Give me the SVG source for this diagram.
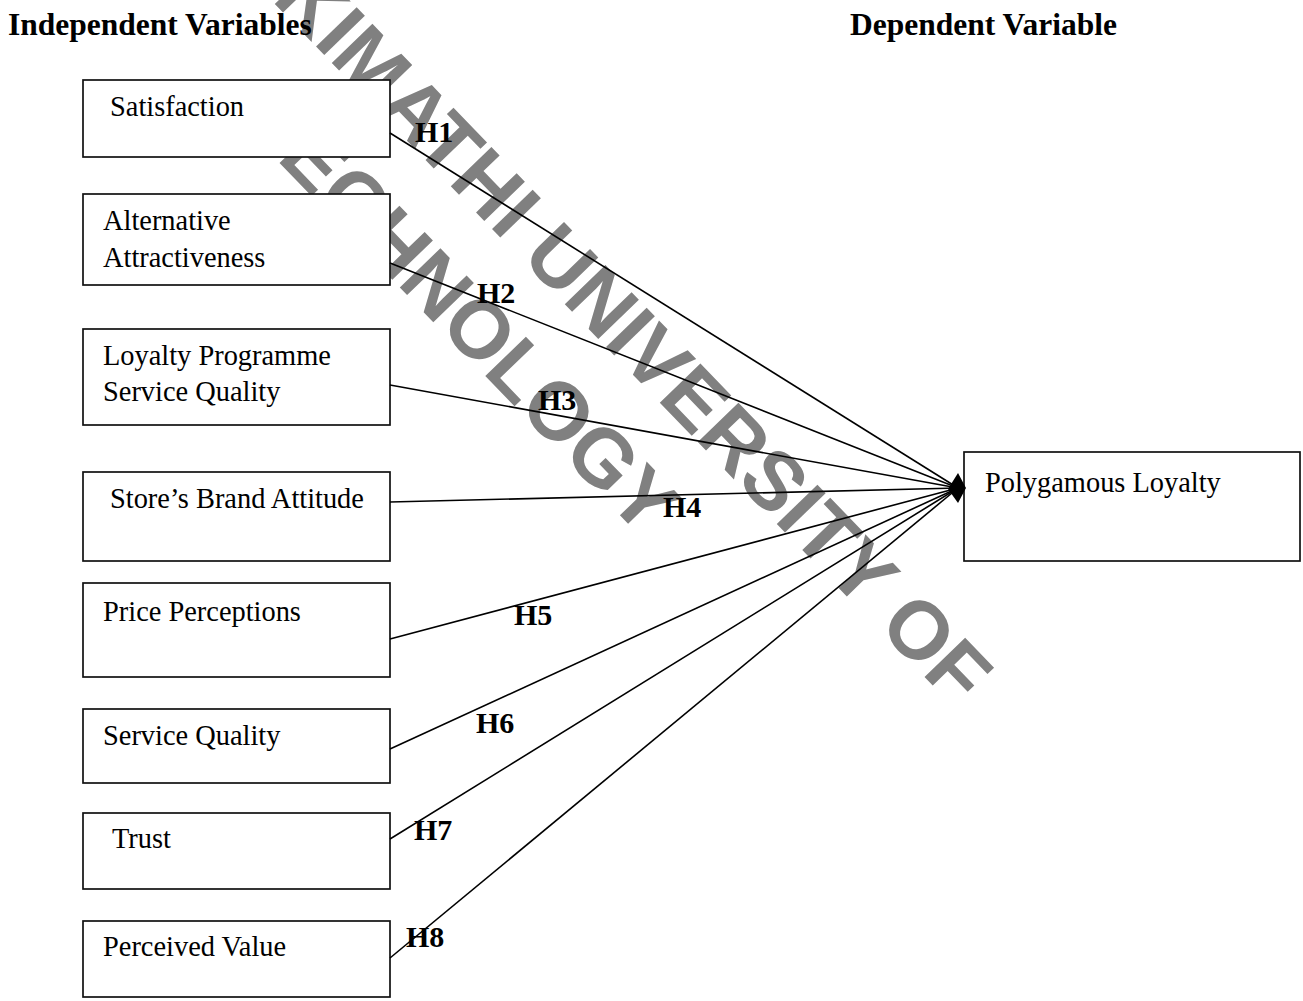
<svg xmlns="http://www.w3.org/2000/svg" width="1303" height="1001" viewBox="0 0 1303 1001">
<style>
.wm{font-family:"Liberation Sans",Arial,sans-serif;font-weight:bold;font-size:82px;fill:#808080}
.box{fill:#fff;stroke:#111;stroke-width:1.7}
.lbl{font-family:"Liberation Serif","Times New Roman",serif;font-size:28.4px;fill:#000}
.hd{font-family:"Liberation Serif","Times New Roman",serif;font-size:31.5px;font-weight:bold;fill:#000}
.h{font-family:"Liberation Serif","Times New Roman",serif;font-size:30px;font-weight:bold;fill:#000}
.ln{stroke:#000;stroke-width:1.6;fill:none}
</style>
<rect width="1303" height="1001" fill="#fff"/>
<g id="watermark">
<text class="wm" transform="translate(271,0) rotate(46)">KIMATHI UNIVERSITY OF</text>
<text class="wm" transform="translate(241,123) rotate(46)">TECHNOLOGY</text>
</g>
<text class="hd" x="8" y="35">Independent Variables</text>
<text class="hd" x="850" y="35">Dependent Variable</text>
<g id="n1"><rect class="box" x="83" y="80" width="307" height="77"/><text class="lbl" x="110" y="116">Satisfaction</text></g>
<g id="n2"><rect class="box" x="83" y="194" width="307" height="91"/><text class="lbl" x="103" y="230">Alternative</text><text class="lbl" x="103" y="267">Attractiveness</text></g>
<g id="n3"><rect class="box" x="83" y="329" width="307" height="96"/><text class="lbl" x="103" y="365">Loyalty Programme</text><text class="lbl" x="103" y="401">Service Quality</text></g>
<g id="n4"><rect class="box" x="83" y="472" width="307" height="89"/><text class="lbl" x="110" y="508">Store’s Brand Attitude</text></g>
<g id="n5"><rect class="box" x="83" y="583" width="307" height="94"/><text class="lbl" x="103" y="621">Price Perceptions</text></g>
<g id="n6"><rect class="box" x="83" y="709" width="307" height="74"/><text class="lbl" x="103" y="745">Service Quality</text></g>
<g id="n7"><rect class="box" x="83" y="813" width="307" height="76"/><text class="lbl" x="112" y="848">Trust</text></g>
<g id="n8"><rect class="box" x="83" y="921" width="307" height="76"/><text class="lbl" x="103" y="956">Perceived Value</text></g>
<g id="n9"><rect class="box" x="964" y="452" width="336" height="109"/><text class="lbl" x="985" y="492">Polygamous Loyalty</text></g>
<g id="connectors">
<line class="ln" x1="390" y1="133" x2="958" y2="488"/>
<line class="ln" x1="390" y1="263" x2="958" y2="488"/>
<line class="ln" x1="390" y1="385" x2="958" y2="488"/>
<line class="ln" x1="390" y1="502" x2="958" y2="488"/>
<line class="ln" x1="390" y1="639" x2="958" y2="488"/>
<line class="ln" x1="390" y1="749" x2="958" y2="488"/>
<line class="ln" x1="390" y1="839" x2="958" y2="488"/>
<line class="ln" x1="390" y1="958" x2="958" y2="488"/>
<polygon points="948,489 958,473 966,488 958,503" fill="#000"/>
</g>
<g id="labels">
<text class="h" x="415" y="142">H1</text>
<text class="h" x="477" y="303">H2</text>
<text class="h" x="538" y="410">H3</text>
<text class="h" x="663" y="517">H4</text>
<text class="h" x="514" y="625">H5</text>
<text class="h" x="476" y="733">H6</text>
<text class="h" x="414" y="840">H7</text>
<text class="h" x="406" y="947">H8</text>
</g>
</svg>
